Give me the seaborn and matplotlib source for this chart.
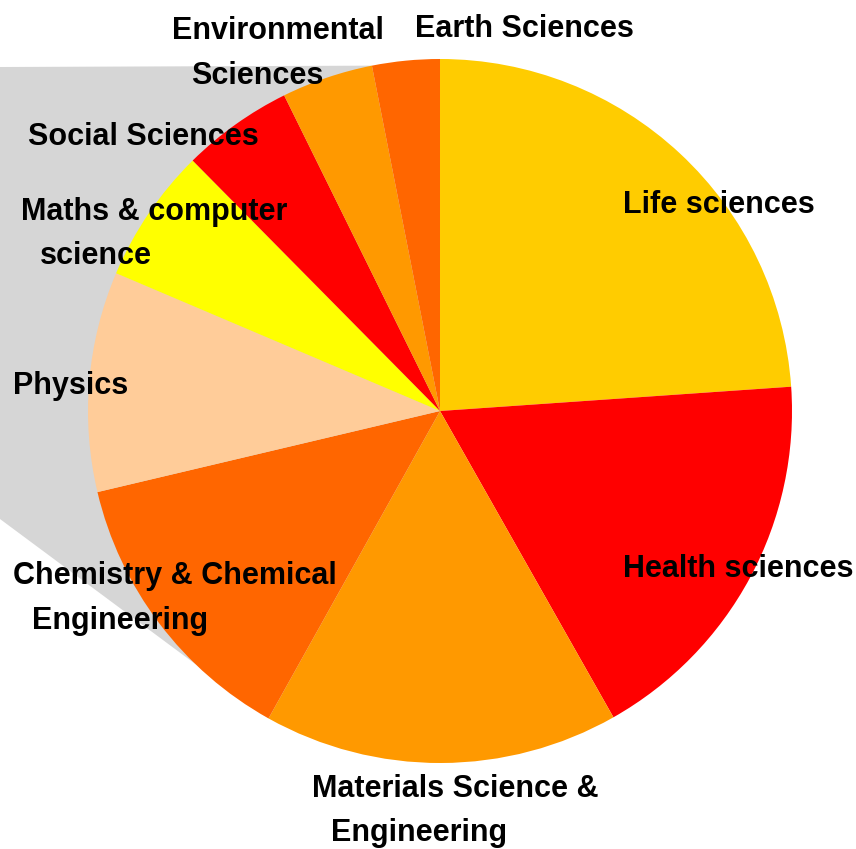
import numpy as np
import matplotlib
matplotlib.use("Agg")
import matplotlib.pyplot as plt
from matplotlib import font_manager
import seaborn as sns

# ---------------- data ----------------
categories = ["Life sciences", "Health sciences", "Materials Science &\nEngineering",
              "Chemistry & Chemical\nEngineering", "Physics", "Maths & computer\nscience",
              "Social Sciences", "Environmental\nSciences", "Earth Sciences"]
shares = [23.9, 17.9, 16.3, 13.2, 10.1, 6.2, 5.1, 4.2, 3.1]
slice_colors = ["#FFCC00", "#FF0000", "#FF9900", "#FF6600", "#FFCC99",
                "#FFFF00", "#FF0000", "#FF9900", "#FF6600"]

# ---------------- layout (pixels in the 856x849 canvas) ----------------
W, H = 856, 849
CX, CY, R = 440, 411, 352
# first-line left x / baseline y for each label
label_pos = [(623, 213), (623, 577), (312, 797), (13, 584), (13, 394),
             (21, 220), (28, 145), (172, 39), (415, 37)]
LINE_GAP = 44.5
INDENT = 19

sns.set_theme(style="white")

def pick_font():
    for fam in ["Liberation Sans Narrow", "Arial Narrow"]:
        try:
            font_manager.findfont(font_manager.FontProperties(family=fam, weight="bold"),
                                  fallback_to_default=False)
            return fam, 26.5
        except Exception:
            pass
    return "Liberation Sans", 22.0

fam, fsize = pick_font()

fig = plt.figure(figsize=(W / 100, H / 100), dpi=100)
ax = fig.add_axes([0, 0, 1, 1])
ax.set_xlim(-CX / R, (W - CX) / R)
ax.set_ylim(-(H - CY) / R, CY / R)

def px(x, y):
    return ((x - CX) / R, (CY - y) / R)

# pie geometry: boundaries (clockwise from 90 deg)
cum = np.concatenate([[0], np.cumsum(shares)]) / np.sum(shares)
ang = np.deg2rad(90 - 360 * cum)
# connector (grey) region: from Env/Earth boundary and Chem/Materials boundary
top_pt = (np.cos(ang[8]), np.sin(ang[8]))
bot_pt = (np.cos(ang[3]), np.sin(ang[3]))
xl = -CX / R
poly_x = [xl, top_pt[0], 0, bot_pt[0], xl]
poly_y = [px(0, 67)[1], top_pt[1], 0, bot_pt[1], px(0, 519)[1]]
ax.fill(poly_x, poly_y, color="#D6D6D6", lw=0, zorder=0)

wedges, _ = ax.pie(shares, colors=slice_colors, startangle=90, counterclock=False,
                   radius=1, center=(0, 0), wedgeprops=dict(linewidth=0.6, edgecolor="none"),
                   frame=True)
for w in wedges:
    w.set_zorder(1)
ax.set_xlim(-CX / R, (W - CX) / R)
ax.set_ylim(-(H - CY) / R, CY / R)
ax.set_aspect("auto")
ax.axis("off")

for lab, (lx, ly) in zip(categories, label_pos):
    for i, line in enumerate(lab.split("\n")):
        x, y = px(lx + (INDENT if i else 0), ly + i * LINE_GAP)
        ax.text(x, y, line, ha="left", va="baseline", fontsize=fsize,
                fontweight="bold", family=[fam, "DejaVu Sans"], color="black", zorder=5)

fig.savefig("out.png", dpi=100)
